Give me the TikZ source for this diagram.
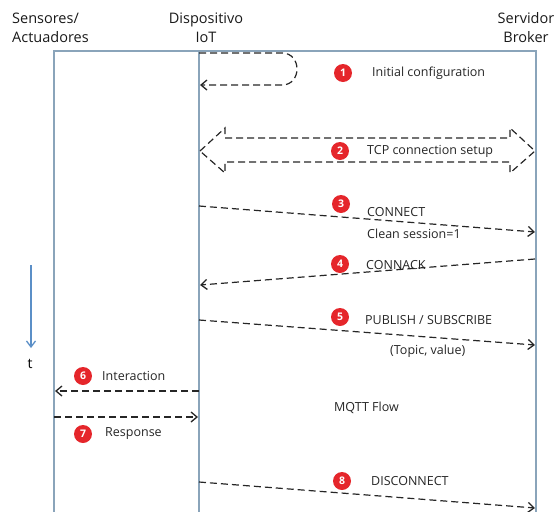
\documentclass[tikz,border=0pt]{standalone}
\usepackage{fontspec}
\setmainfont{Open Sans}
\usetikzlibrary{arrows.meta}
\definecolor{frame}{HTML}{8AA4BA}
\definecolor{badgered}{HTML}{E5262B}
\definecolor{timeblue}{HTML}{5B8FC7}
\tikzset{
  lifeline/.style={draw=frame, line width=1.3pt},
  msg/.style={draw=black!85, line width=1.2pt, dash pattern=on 7pt off 4pt,
    -{Straight Barb[length=6pt,width=10pt,line width=1.3pt]}},
  badge/.style={circle, fill=badgered, text=white, inner sep=0pt,
    minimum size=18pt, font=\fontsize{10.5}{10.5}\selectfont\bfseries},
  lbl/.style={anchor=west, inner sep=0pt, text=black!85, font=\fontsize{12.5}{15}\selectfont},
  header/.style={inner sep=0pt, text=black!90, font=\fontsize{14.5}{19}\selectfont}
}
\begin{document}
\begin{tikzpicture}[x=1pt,y=-1pt]
\useasboundingbox (0,0) rectangle (558,512);

% column headers
\node[header, anchor=west, align=left] (hsens) at (12,28) {Sensores/\\Actuadores};
\node[header, align=center] (hdev) at (206,28) {Dispositivo\\IoT};
\node[header, align=center] (hbrk) at (526,28) {Servidor\\Broker};

% lifelines and frame
\coordinate (fl) at (54,512);
\coordinate (ftl) at (54,51);
\coordinate (ftr) at (536,51);
\coordinate (fr) at (536,512);
\coordinate (dtop) at (199,51);
\coordinate (dbot) at (199,512);
\draw[lifeline] (fl) -- (ftl) -- (ftr) -- (fr);
\draw[lifeline] (dtop) -- (dbot);

% time axis
\coordinate (ttop) at (31,265);
\coordinate (tbot) at (31,348);
\draw[timeblue, line width=1.3pt, -{Straight Barb[length=6pt,width=9pt,line width=1.3pt]}] (ttop) -- (tbot);
\node[inner sep=0pt, font=\fontsize{14}{14}\selectfont] (tlab) at (30,364) {t};

% 1: initial configuration (self loop)
\coordinate (l1s) at (199,53);
\coordinate (l1e) at (200,85);
\draw[msg] (l1s) -- (282,53) .. controls (302,53) and (302,85) .. (282,85) -- (l1e);
\node[badge] (b1) at (343,73) {1};
\node[lbl] (t1) at (372,73) {Initial configuration};

% 2: TCP connection setup (dashed double arrow outline)
\draw[black!85, line width=1.2pt, dash pattern=on 7pt off 4pt, line join=miter]
  (200,151) -- (225,128) -- (225,138) -- (510,138) -- (510,128) -- (535,151)
  -- (510,173) -- (510,162) -- (225,162) -- (225,173) -- cycle;
\node[badge] (b2) at (340,151) {2};
\node[lbl] (t2) at (367,151) {TCP connection setup};

% 3: CONNECT
\coordinate (m3s) at (199,206);
\coordinate (m3e) at (535,232);
\draw[msg] (m3s) -- (m3e);
\node[badge] (b3) at (341,204) {3};
\node[lbl] (t3) at (367,212) {CONNECT};
\node[lbl] (t3b) at (367,234) {Clean session=1};

% 4: CONNACK
\coordinate (m4s) at (535,259);
\coordinate (m4e) at (200,285);
\draw[msg] (m4s) -- (m4e);
\node[badge] (b4) at (340,264) {4};
\node[lbl] (t4) at (366,265) {CONNACK};

% 5: PUBLISH / SUBSCRIBE
\coordinate (m5s) at (199,320);
\coordinate (m5e) at (535,345);
\draw[msg] (m5s) -- (m5e);
\node[badge] (b5) at (340,317) {5};
\node[lbl] (t5) at (365,320) {PUBLISH / SUBSCRIBE};
\node[lbl] (t5b) at (390,351) {(Topic, value)};

% 6: interaction
\coordinate (m6s) at (199,391);
\coordinate (m6e) at (55,391);
\draw[msg] (m6s) -- (m6e);
\node[badge] (b6) at (83,376) {6};
\node[lbl] (t6) at (102,376) {Interaction};

% 7: response
\coordinate (m7s) at (54,417);
\coordinate (m7e) at (198,417);
\draw[msg] (m7s) -- (m7e);
\node[badge] (b7) at (83,434) {7};
\node[lbl] (t7) at (105,434) {Response};

\node[lbl] (flow) at (334,408) {MQTT Flow};

% 8: DISCONNECT
\coordinate (m8s) at (199,482);
\coordinate (m8e) at (535,508);
\draw[msg] (m8s) -- (m8e);
\node[badge] (b8) at (342,481) {8};
\node[lbl] (t8) at (371,481) {DISCONNECT};
\end{tikzpicture}
\end{document}
